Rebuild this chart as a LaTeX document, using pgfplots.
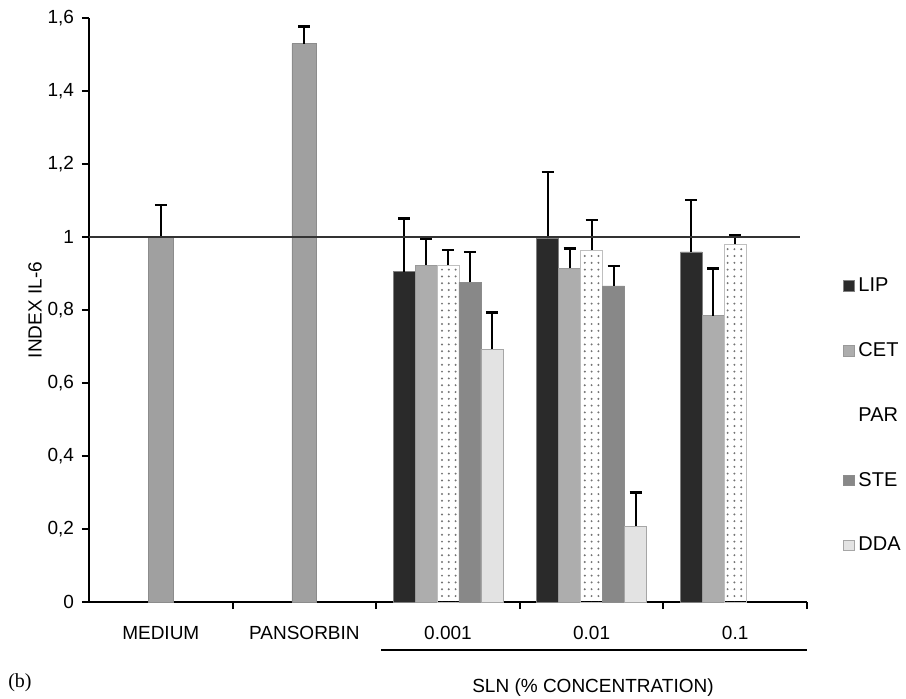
\documentclass[border=0pt]{standalone}
\usepackage{pgfplots}
\pgfplotsset{compat=1.18}
\usetikzlibrary{patterns.meta}
\usepackage{fontspec}
\setmainfont{Liberation Sans}
\newfontfamily\seriffont{Liberation Serif}

\definecolor{ctrlgray}{HTML}{A0A0A0}
\definecolor{lipgray}{HTML}{2A2A2A}
\definecolor{cetgray}{HTML}{ADADAD}
\definecolor{stegray}{HTML}{888888}
\definecolor{ddagray}{HTML}{E3E3E3}

\begin{document}
\begin{tikzpicture}
\useasboundingbox (-44.5pt,-48pt) rectangle (408.5pt,301pt);
\begin{axis}[
    at={(0,0)}, anchor=south west,
    scale only axis,
    width=359pt, height=292pt,
    xmin=-0.5, xmax=4.5,
    ymin=0, ymax=1.6,
    axis x line*=bottom,
    axis y line*=left,
    axis line style={line width=1pt},
    xtick align=inside,
    ytick align=outside,
    ytick pos=left,
    tick style={line width=1pt, black},
    major tick length=3.5pt,
    xtick={0.5,1.5,2.5,3.5,4.5},
    xticklabels={},
    extra x ticks={0,1,2,3,4},
    extra x tick labels={MEDIUM,PANSORBIN,0.001,0.01,0.1},
    extra x tick style={major tick length=0pt},
    ytick={0,0.2,0.4,0.6,0.8,1,1.2,1.4,1.6},
    yticklabels={0,{0,2},{0,4},{0,6},{0,8},1,{1,2},{1,4},{1,6}},
    ticklabel style={font=\fontsize{9.5}{11}\selectfont},
    xticklabel style={yshift=-8.5pt},
    yticklabel style={xshift=-0.5pt},
    ylabel={INDEX IL-6},
    every axis y label/.style={at={(axis description cs:-0.0752,0.5)}, rotate=90, anchor=center, font=\fontsize{9.5}{11}\selectfont},
    ybar,
    bar width=0.153,
    error bars/y dir=plus,
    error bars/y explicit,
    error bars/error bar style={black, line width=1pt},
    error bars/error mark options={black, line width=1.2pt, mark size=3pt, rotate=90},
    legend image code/.code={\fill[#1] (0pt,-2.6pt) rectangle (5.2pt,2.6pt);},
    legend style={draw=none, fill=none, at={(axis description cs:1.05,0.563)}, anchor=north west,
        row sep=20pt, font=\fontsize{10}{12}\selectfont, inner sep=0pt},
    legend cell align=left,
]
% controls
\addplot+[ybar, bar shift=0, bar width=0.174, fill=ctrlgray, draw=black!45, line width=0.4pt, forget plot]
coordinates {(0,1.000) +- (0,0.088) (1,1.530) +- (0,0.047)};
% LIP
\addplot+[ybar, bar shift=-0.306, fill=lipgray, draw=black!50, line width=0.4pt]
coordinates {(2,0.905) +- (0,0.146) (3,0.996) +- (0,0.182) (4,0.959) +- (0,0.142)};
% CET
\addplot+[ybar, bar shift=-0.153, fill=cetgray, draw=black!40, line width=0.4pt]
coordinates {(2,0.923) +- (0,0.073) (3,0.914) +- (0,0.054) (4,0.784) +- (0,0.130)};
% PAR
\addplot+[ybar, bar shift=0, fill=white, pattern={Dots[distance=3.4pt, radius=0.55pt]}, pattern color=black!55, draw=black!25, line width=0.4pt,
    legend image code/.code={}]
coordinates {(2,0.923) +- (0,0.041) (3,0.964) +- (0,0.082) (4,0.980) +- (0,0.025)};
% STE
\addplot+[ybar, bar shift=0.153, fill=stegray, draw=black!45, line width=0.4pt]
coordinates {(2,0.876) +- (0,0.083) (3,0.866) +- (0,0.055)};
% DDA
\addplot+[ybar, bar shift=0.306, fill=ddagray, draw=black!35, line width=0.4pt]
coordinates {(2,0.693) +- (0,0.100) (3,0.208) +- (0,0.092)};
\legend{LIP,CET,PAR,STE,DDA}
% reference line at 1
\draw[black!80, line width=1pt] (axis cs:-0.5,1) -- (axis cs:4.45,1);
\end{axis}
\draw[line width=0.6pt] (146pt,-24pt) -- (359pt,-24pt);
\node[font=\fontsize{9.5}{11}\selectfont] at (252pt,-43pt) {SLN (\% CONCENTRATION)};
\node[font=\seriffont\fontsize{10}{12}\selectfont] at (-34.5pt,-40.5pt) {(b)};
\end{tikzpicture}
\end{document}
